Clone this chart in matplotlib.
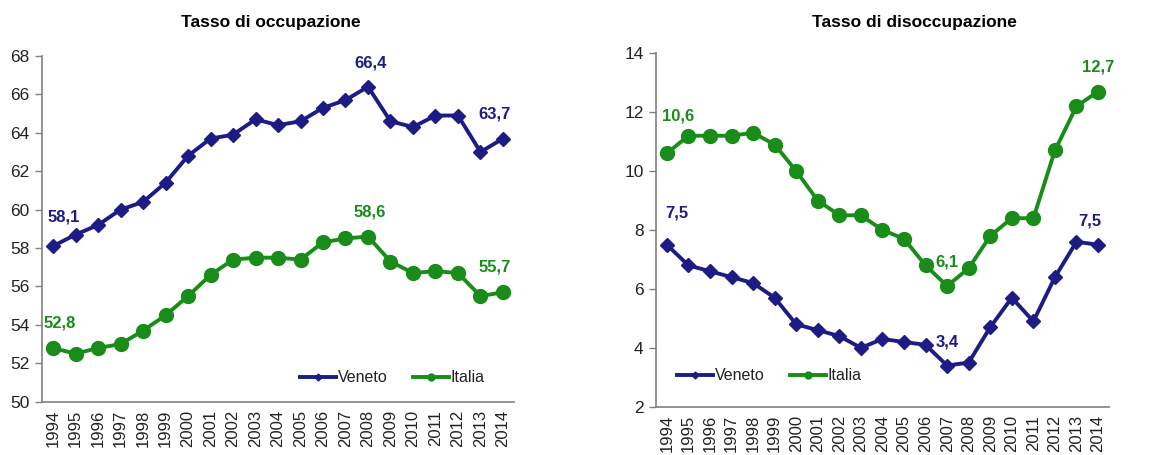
import numpy as np
import matplotlib.pyplot as plt

plt.rcParams['font.family'] = ['Liberation Sans', 'DejaVu Sans']

# ---------------------------------------------------------------
# Dati
# ---------------------------------------------------------------
anni = list(range(1994, 2015))

occ_veneto = [58.1, 58.7, 59.2, 60.0, 60.4, 61.4, 62.8, 63.7, 63.9, 64.7, 64.4,
              64.6, 65.3, 65.7, 66.4, 64.6, 64.3, 64.9, 64.9, 63.0, 63.7]
occ_italia = [52.8, 52.5, 52.8, 53.0, 53.7, 54.5, 55.5, 56.6, 57.4, 57.5, 57.5,
              57.4, 58.3, 58.5, 58.6, 57.3, 56.7, 56.8, 56.7, 55.5, 55.7]

dis_veneto = [7.5, 6.8, 6.6, 6.4, 6.2, 5.7, 4.8, 4.6, 4.4, 4.0, 4.3,
              4.2, 4.1, 3.4, 3.5, 4.7, 5.7, 4.9, 6.4, 7.6, 7.5]
dis_italia = [10.6, 11.2, 11.2, 11.2, 11.3, 10.9, 10.0, 9.0, 8.5, 8.5, 8.0,
              7.7, 6.8, 6.1, 6.7, 7.8, 8.4, 8.4, 10.7, 12.2, 12.7]

col_veneto = '#1c1c84'
col_italia = '#198c19'
col_asse = '#808080'

fig = plt.figure(figsize=(11.73, 4.55), dpi=100)
ax1 = fig.add_axes([0.0356, 0.117, 0.4028, 0.760])
ax2 = fig.add_axes([0.5593, 0.106, 0.386, 0.777])

x = np.arange(len(anni))


def disegna(ax, veneto, italia, ylim, yticks, legenda_pos):
    lv, = ax.plot(x, veneto, color=col_veneto, lw=2.8, marker='D', ms=7,
                  label='Veneto', zorder=3)
    li, = ax.plot(x, italia, color=col_italia, lw=2.8, marker='o', ms=10,
                  label='Italia', zorder=3)
    ax.set_xlim(-0.5, len(anni) - 0.5)
    ax.set_ylim(*ylim)
    ax.set_yticks(yticks)
    ax.set_xticks(x)
    ax.set_xticklabels([str(a) for a in anni], rotation=90, fontsize=12,
                       color='#222222')
    ax.tick_params(axis='x', length=0, pad=6)
    ax.tick_params(axis='y', length=5, width=1, color=col_asse, labelsize=12.5,
                   labelcolor='#222222', pad=4)
    for s in ['top', 'right']:
        ax.spines[s].set_visible(False)
    for s in ['left', 'bottom']:
        ax.spines[s].set_color(col_asse)
        ax.spines[s].set_linewidth(1.2)
    leg = ax.legend(handles=[lv, li], ncol=2, frameon=False, fontsize=11.5,
                    loc='center', bbox_to_anchor=legenda_pos,
                    handlelength=2.25, handletextpad=0.1, columnspacing=1.6,
                    markerscale=0.5, borderpad=0, borderaxespad=0)
    for t in leg.get_texts():
        t.set_color('#222222')


def etichetta(ax, i, serie, colore, dx, dy):
    ax.annotate(f'{serie[i]:.1f}'.replace('.', ','), (x[i], serie[i]),
                xytext=(dx, dy), textcoords='offset points', ha='center',
                va='center', fontsize=12, fontweight='bold', color=colore)


disegna(ax1, occ_veneto, occ_italia, (50, 68), range(50, 69, 2), (0.742, 0.069))
disegna(ax2, dis_veneto, dis_italia, (2, 14), range(2, 15, 2), (0.25, 0.088))

# etichette tasso di occupazione
etichetta(ax1, 0, occ_veneto, col_veneto, 8, 21)
etichetta(ax1, 14, occ_veneto, col_veneto, 2, 17)
etichetta(ax1, 20, occ_veneto, col_veneto, -6, 18)
etichetta(ax1, 0, occ_italia, col_italia, 5, 18)
etichetta(ax1, 14, occ_italia, col_italia, 1, 18)
etichetta(ax1, 20, occ_italia, col_italia, -6, 18)

# etichette tasso di disoccupazione
etichetta(ax2, 0, dis_italia, col_italia, 8, 27)
etichetta(ax2, 20, dis_italia, col_italia, 0, 18)
etichetta(ax2, 13, dis_italia, col_italia, 0, 17)
etichetta(ax2, 0, dis_veneto, col_veneto, 7, 23)
etichetta(ax2, 20, dis_veneto, col_veneto, -6, 17)
etichetta(ax2, 13, dis_veneto, col_veneto, 0, 17)

fig.text(271 / 1173, 1 - 23 / 455, 'Tasso di occupazione', ha='center',
         va='center', fontsize=12.5, fontweight='bold')
fig.text(914 / 1173, 1 - 23 / 455, 'Tasso di disoccupazione', ha='center',
         va='center', fontsize=12.5, fontweight='bold')

plt.savefig('out.png', dpi=100)
